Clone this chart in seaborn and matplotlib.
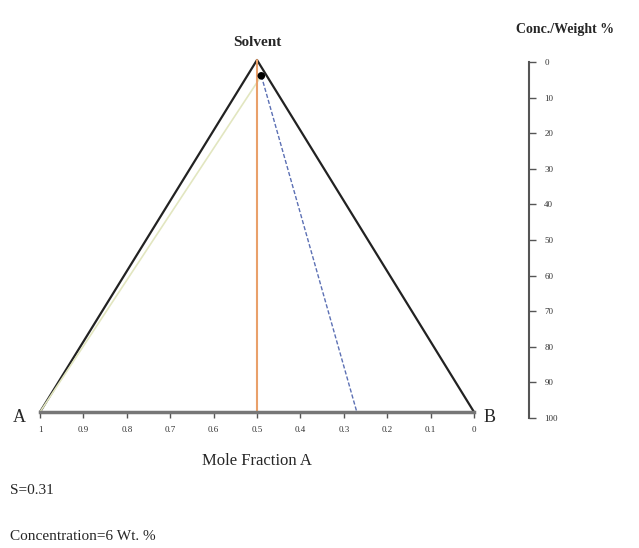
import matplotlib
matplotlib.use("Agg")
import matplotlib.pyplot as plt
import seaborn as sns
import pandas as pd

# triangle corners: A, Solvent, B  (x = mole fraction A, y = weight %)
corner_frac = [1.0, 0.5, 0.0]
corner_wt = [100, 0, 100]
corner_names = ["A", "Solvent", "B"]

# composition point and its lines
point_frac = 0.49
point_wt = 4.5
tie_end_frac = 0.27      # blue dashed line hits the base here
orange_frac = 0.5        # vertical line

frac_ticks = [1, 0.9, 0.8, 0.7, 0.6, 0.5, 0.4, 0.3, 0.2, 0.1, 0]
frac_labels = ["1", "0.9", "0.8", "0.7", "0.6", "0.5", "0.4", "0.3", "0.2", "0.1", "0"]
wt_ticks = [0, 10, 20, 30, 40, 50, 60, 70, 80, 90, 100]

s_value = 0.31
conc_value = 6

sns.set_theme(style="white")
plt.rcParams["font.family"] = ["Liberation Serif", "DejaVu Serif"]

W, H = 639, 548
fig = plt.figure(figsize=(W / 100, H / 100), dpi=100)

def px_axes(x0, y0, x1, y1):
    return fig.add_axes([x0 / W, 1 - y1 / H, (x1 - x0) / W, (y1 - y0) / H])

ax = px_axes(40, 60, 474, 412)
ax.set_xlim(1, 0)
ax.set_ylim(100, 0)

# triangle
tri = pd.DataFrame({"frac": corner_frac, "wt": corner_wt})
sns.lineplot(data=tri, x="frac", y="wt", sort=False, color="#222222",
             lw=1.6, ax=ax, clip_on=False)

# pale line from point to A
sns.lineplot(x=[point_frac, corner_frac[0]], y=[point_wt, corner_wt[0]],
             sort=False, color="#e2e6c0", lw=1.2, ax=ax, clip_on=False)
# orange vertical (plain plot: both points share one x)
ax.plot([orange_frac, orange_frac], [corner_wt[1], 100], color="#e9a06a",
        lw=1.5, clip_on=False)
# blue dashed tie line
sns.lineplot(x=[point_frac, tie_end_frac], y=[point_wt, 100],
             sort=False, color="#5c70b4", lw=1.0, ax=ax, clip_on=False,
             linestyle=(0, (3, 1.5)))
# composition point
sns.scatterplot(x=[point_frac], y=[point_wt], color="black", s=30,
                ax=ax, zorder=5, clip_on=False, edgecolor="none")

for s in ["top", "left", "right"]:
    ax.spines[s].set_visible(False)
ax.spines["bottom"].set_color("#777777")
ax.spines["bottom"].set_linewidth(2.5)
ax.set_xticks(frac_ticks)
ax.set_xticklabels(frac_labels, fontsize=6.5, color="#333333")
ax.tick_params(axis="x", direction="out", length=4, width=1, color="#555555",
               bottom=True, pad=6)
ax.set_yticks([])
ax.set_xlabel("Mole Fraction A", fontsize=12, labelpad=14)
ax.set_ylabel("")

ax.annotate(corner_names[0], (corner_frac[0], corner_wt[0]),
            xytext=(-14, -5), textcoords="offset pixels", ha="right",
            va="center", fontsize=13)
ax.annotate(corner_names[2], (corner_frac[2], corner_wt[2]),
            xytext=(10, -5), textcoords="offset pixels", ha="left",
            va="center", fontsize=13)
ax.text(corner_frac[1], corner_wt[1] - 3, corner_names[1], ha="center",
        va="bottom", fontsize=11, fontweight="bold")

# weight % scale
ax2 = px_axes(480, 62, 529, 418)
ax2.set_ylim(100, 0)
ax2.set_xticks([])
for s in ["top", "left", "bottom"]:
    ax2.spines[s].set_visible(False)
ax2.spines["right"].set_color("#555555")
ax2.spines["right"].set_linewidth(1.5)
ax2.yaxis.tick_right()
ax2.set_yticks(wt_ticks)
ax2.set_yticklabels([str(t) for t in wt_ticks], fontsize=6.5, color="#333333")
ax2.tick_params(axis="y", right=True, direction="out", length=5, width=1,
                color="#555555", pad=6)
ax2.set_facecolor("none")

fig.text(565 / W, 1 - 30 / H, "Conc./Weight %", ha="center", va="center",
         fontsize=10, fontweight="bold")
fig.text(10 / W, 1 - 490 / H, f"S={s_value}", ha="left", va="center",
         fontsize=11)
fig.text(10 / W, 1 - 537 / H, f"Concentration={conc_value} Wt. %", ha="left",
         va="center", fontsize=11)

fig.savefig("out.png", dpi=100)
